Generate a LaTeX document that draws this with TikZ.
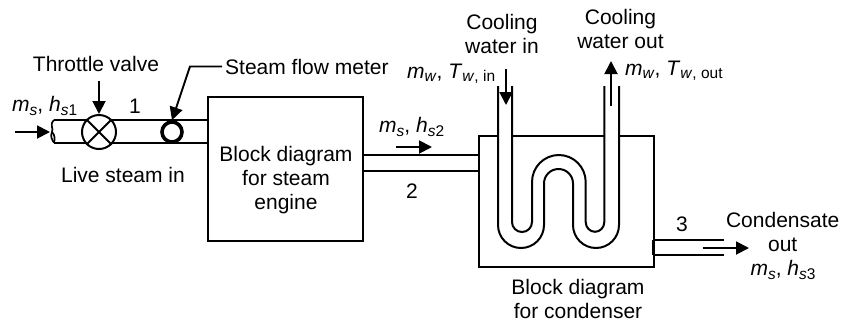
\documentclass[tikz,border=0pt]{standalone}
\usepackage{fontspec}
\setmainfont{Liberation Sans}
\usetikzlibrary{arrows.meta,calc}
\newcommand{\subtxt}[1]{\raisebox{-3.5pt}{\fontsize{15.5}{16}\selectfont #1}}
\newcommand{\subi}[1]{\subtxt{\textit{#1}}}
\newcommand{\subr}[2]{\subtxt{\textit{#1}#2}}
\tikzset{
  lbl/.style={font=\fontsize{21}{24}\selectfont,align=center,inner sep=0pt,text=black},
  qty/.style={font=\fontsize{21}{24}\selectfont,inner sep=0pt,text=black},
  pipe/.style={line width=2.3pt,black},
  wall/.style={line width=2pt,black},
  flow/.style={line width=1.9pt,black,-{Triangle[length=13pt,width=13pt]}},
  leader/.style={line width=1.9pt,black,-{Triangle[length=13pt,width=13pt]}},
  block/.style={draw=black,line width=2pt,fill=white,inner sep=0pt}
}
\begin{document}
\begin{tikzpicture}[x=1pt,y=-1pt]
\useasboundingbox (0,0) rectangle (841,322);
% blocks
\node[block,minimum width=155pt,minimum height=143.5pt] (engine) at (285.5,169) {};
\node[block,minimum width=174.7pt,minimum height=131pt] (condenser) at (566.3,201.5) {};
% pipe 1
\coordinate (p1t) at (54,120);
\coordinate (p1b) at (54,142.7);
\draw[pipe] (p1t) -- (p1t -| engine.west);
\draw[pipe] (p1b) -- (p1b -| engine.west);
\draw[line width=1.7pt,black] (p1t) .. controls (49,125) and (54,128) .. (52,132) .. controls (50,136) and (52,140) .. (p1b);
\draw[line width=1.7pt,black] (52,132) .. controls (55,135) and (55,139) .. (p1b);
\node[draw=black,line width=2pt,fill=white,circle,minimum size=34pt,inner sep=0pt] (valve) at (99,132) {};
\draw[line width=1.9pt,black] (valve.north west) -- (valve.south east);
\draw[line width=1.9pt,black] (valve.north east) -- (valve.south west);
\node[draw=black,line width=3.6pt,fill=white,circle,minimum size=20pt,inner sep=0pt] (meter) at (172,132) {};
% pipe 2
\coordinate (p2t) at (363,155);
\coordinate (p2b) at (363,170.7);
\draw[pipe] (p2t) -- (p2t -| condenser.west);
\draw[pipe] (p2b) -- (p2b -| condenser.west);
% pipe 3
\coordinate (p3t) at (653.7,240);
\coordinate (p3b) at (653.7,255.3);
\draw[pipe] (p3t) -- ++(70.3,0);
\draw[pipe] (p3b) -- ++(70.3,0);
\draw[line width=3.4pt,black] (p3t) -- (p3b);
% cooling tube
\fill[white] (499,130) rectangle (511,140);
\fill[white] (605,130) rectangle (618,140);
\draw[wall] (498,86) -- (498,225) arc[start angle=180,end angle=360,x radius=23,y radius=-23] -- (544,183.5) arc[start angle=180,end angle=0,x radius=14.5,y radius=-14.5] -- (573,225) arc[start angle=180,end angle=360,x radius=23,y radius=-23] -- (619,86);
\draw[wall] (512,86) -- (512,222) arc[start angle=180,end angle=360,x radius=10,y radius=-10] -- (532,182) arc[start angle=180,end angle=0,x radius=26.85,y radius=-27] -- (585.7,222) arc[start angle=180,end angle=360,x radius=9.3,y radius=-9.8] -- (604.3,86);
% arrows
\coordinate (a1s) at (15,132);
\coordinate (a1e) at (50,132);
\draw[flow] (a1s) -- (a1e);
\draw[flow] (99,81) -- (valve.north);
\coordinate (lead) at (190,66.5);
\draw[leader] (222,66.5) -- (lead) -- (meter.north);
\draw[flow] (396,147) -- (432,147);
\draw[flow] (506,69) -- (506,105);
\draw[flow] (611,105.5) -- (611,61);
\draw[flow] (702.7,248) -- (749,248);
% labels
\node[lbl] (tv) at (96,64) {Throttle valve};
\node[lbl,anchor=west] (sfm) at (225,66.5) {Steam flow meter};
\node[lbl] (n1) at (135,106) {1};
\node[qty,anchor=west] (ms1) at (12,106) {\textit{m}\subi{s}, \textit{h}\subr{s}{1}};
\node[lbl] (live) at (123,175) {Live steam in};
\node[lbl] (enginetext) at (286,180) {Block diagram\\for steam\\engine};
\node[qty,anchor=west] (ms2) at (379,127) {\textit{m}\subi{s}, \textit{h}\subr{s}{2}};
\node[lbl] (n2) at (412,191) {2};
\node[lbl] (cwi) at (502,34) {Cooling\\water in};
\node[lbl] (cwo) at (620.5,29) {Cooling\\water out};
\node[qty,anchor=west] (mwi) at (407,74) {\textit{m}\subi{w}, \textit{T}\subi{w}\subtxt{, in}};
\node[qty,anchor=west] (mwo) at (625,71) {\textit{m}\subi{w}, \textit{T}\subi{w}\subtxt{, out}};
\node[lbl] (n3) at (682,224) {3};
\node[lbl] (cout) at (782.7,232) {Condensate\\out};
\node[qty] (ms3) at (783,270) {\textit{m}\subi{s}, \textit{h}\subr{s}{3}};
\node[lbl] (condtext) at (578,299) {Block diagram\\for condenser};
\end{tikzpicture}
\end{document}
